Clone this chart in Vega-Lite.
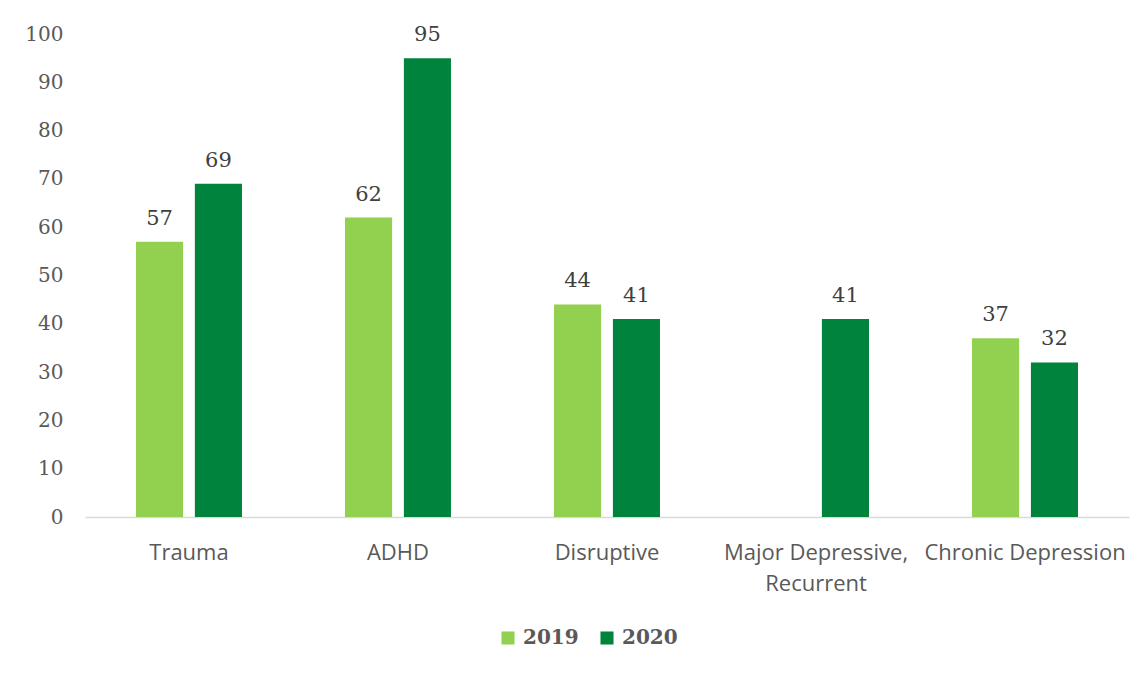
{
  "$schema": "https://vega.github.io/schema/vega-lite/v6.json",
  "autosize": {"type": "none"},
  "padding": {"left": 85, "top": 34, "right": 17, "bottom": 158},
  "width": 1044,
  "height": 483,
  "background": "white",
  "data": {
    "values": [
      {"category": "Trauma", "year": "2019", "count": 57},
      {"category": "Trauma", "year": "2020", "count": 69},
      {"category": "ADHD", "year": "2019", "count": 62},
      {"category": "ADHD", "year": "2020", "count": 95},
      {"category": "Disruptive", "year": "2019", "count": 44},
      {"category": "Disruptive", "year": "2020", "count": 41},
      {"category": "Major Depressive, Recurrent", "year": "2020", "count": 41},
      {"category": "Chronic Depression", "year": "2019", "count": 37},
      {"category": "Chronic Depression", "year": "2020", "count": 32}
    ]
  },
  "encoding": {
    "x": {
      "field": "category",
      "type": "nominal",
      "sort": ["Trauma", "ADHD", "Disruptive", "Major Depressive, Recurrent", "Chronic Depression"],
      "scale": {"paddingInner": 0.493, "paddingOuter": 0.244},
      "axis": {
        "title": null,
        "labelAngle": 0,
        "labelFont": "Open Sans",
        "labelFontSize": 22,
        "labelColor": "#595959",
        "labelPadding": 25,
        "labelLineHeight": 31,
        "labelLimit": 400,
        "labelOverlap": false,
        "labelBound": false,
        "labelExpr": "datum.label == 'Major Depressive, Recurrent' ? ['Major Depressive,', 'Recurrent'] : datum.label",
        "ticks": false,
        "domainColor": "#D9D9D9",
        "domainWidth": 1.5
      }
    },
    "xOffset": {
      "field": "year",
      "type": "nominal",
      "scale": {"domain": ["2019", "2020"], "paddingInner": 0.2, "paddingOuter": 0}
    },
    "y": {
      "field": "count",
      "type": "quantitative",
      "scale": {"domain": [0, 100]},
      "axis": {
        "title": null,
        "values": [0, 10, 20, 30, 40, 50, 60, 70, 80, 90, 100],
        "grid": false,
        "domain": false,
        "ticks": false,
        "labelFont": "DejaVu Serif",
        "labelFontSize": 20,
        "labelColor": "#595959",
        "labelPadding": 22
      }
    }
  },
  "layer": [
    {
      "mark": {"type": "bar"},
      "encoding": {
        "color": {
          "field": "year",
          "type": "nominal",
          "scale": {"domain": ["2019", "2020"], "range": ["#92D050", "#00843D"]},
          "legend": {
            "title": null,
            "orient": "none",
            "direction": "horizontal",
            "legendX": 413,
            "legendY": 594,
            "symbolType": "square",
            "symbolSize": 170,
            "symbolStrokeWidth": 0,
            "symbolOpacity": 1,
            "labelFont": "DejaVu Serif",
            "labelFontWeight": "bold",
            "labelFontSize": 20,
            "labelColor": "#595959",
            "labelOffset": 5,
            "columnPadding": 18
          }
        }
      }
    },
    {
      "mark": {
        "type": "text",
        "baseline": "alphabetic",
        "dy": -17,
        "font": "DejaVu Serif",
        "fontSize": 21,
        "color": "#404040"
      },
      "encoding": {
        "text": {"field": "count", "type": "quantitative"}
      }
    }
  ],
  "config": {
    "view": {"stroke": null}
  }
}
